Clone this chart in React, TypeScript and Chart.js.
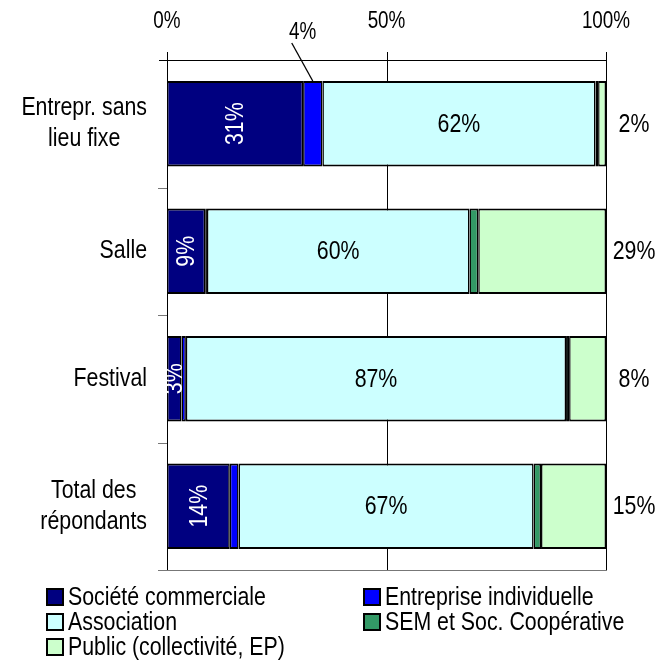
import React, { useEffect, useRef } from "react";
import { Chart, registerables } from "chart.js";

Chart.register(...registerables);

const categories: (string | string[])[] = [
  ["Entrepr. sans", "lieu fixe"],
  "Salle",
  "Festival",
  ["Total des", "répondants"],
];
const seriesNames = [
  "Société commerciale",
  "Entreprise individuelle",
  "Association",
  "SEM et Soc. Coopérative",
  "Public (collectivité, EP)",
];
const societeCommerciale = [31, 8.7, 3.3, 14.3];
const entrepriseIndividuelle = [4.4, 0.4, 1.0, 2.0];
const association = [62.2, 59.8, 86.6, 67.2];
const semCoop = [0.6, 2.0, 0.7, 1.7];
const publicColl = [1.8, 29.1, 8.4, 14.8];
const xTicks = [0, 50, 100];

const colors = ["#000080", "#0000FF", "#CCFFFF", "#339966", "#CCFFCC"];
const FONT = "'Liberation Sans', Arial, sans-serif";
const NARROW = 0.82;

const pct = (v: number) => Math.round(v) + "%";

function txt(
  ctx: CanvasRenderingContext2D,
  s: string,
  x: number,
  y: number,
  size: number,
  color: string,
  align: CanvasTextAlign = "center",
  rot = 0
) {
  ctx.save();
  ctx.font = size + "px " + FONT;
  ctx.translate(x, y);
  if (rot) ctx.rotate(rot);
  ctx.scale(NARROW, 1);
  ctx.textAlign = align;
  ctx.textBaseline = "middle";
  ctx.fillStyle = color;
  ctx.fillText(s, 0, 0);
  ctx.restore();
}

function textW(ctx: CanvasRenderingContext2D, s: string, size: number) {
  ctx.save();
  ctx.font = size + "px " + FONT;
  const w = ctx.measureText(s).width * NARROW;
  ctx.restore();
  return w;
}

const customPlugin = {
  id: "custom",
  beforeDatasetsDraw(chart: any) {
    const ctx = chart.ctx;
    const { left, right, top, bottom } = chart.chartArea;
    const xs = chart.scales.x;
    ctx.save();
    ctx.strokeStyle = "#000";
    ctx.lineWidth = 1;
    xTicks.forEach((t) => {
      const x = Math.round(xs.getPixelForValue(t)) + 0.5;
      ctx.beginPath();
      ctx.moveTo(x, top - 8);
      ctx.lineTo(x, t === 0 ? top : bottom);
      ctx.stroke();
    });
    ctx.beginPath();
    ctx.moveTo(left - 8, top + 0.5);
    ctx.lineTo(right + 1, top + 0.5);
    ctx.stroke();
    const lx = Math.round(left) + 0.5;
    ctx.beginPath();
    ctx.moveTo(lx, top);
    ctx.lineTo(lx, bottom);
    ctx.stroke();
    const n = categories.length;
    ctx.strokeStyle = "#777";
    for (let i = 1; i <= n; i++) {
      const y = Math.round(top + (i * (bottom - top)) / n) + 0.5;
      ctx.beginPath();
      ctx.moveTo(left - 9, y);
      ctx.lineTo(i === n ? right + 1 : left, y);
      ctx.stroke();
    }
    ctx.restore();
    xTicks.forEach((t) => {
      txt(ctx, t + "%", xs.getPixelForValue(t), top - 38, 23, "#000");
    });
    const ys = chart.scales.y;
    categories.forEach((c, i) => {
      const lines = Array.isArray(c) ? c : [c];
      const w = Math.max(...lines.map((l) => textW(ctx, l, 26)));
      const cx = left - 20 - w / 2;
      const cy = ys.getPixelForValue(i);
      const lh = 31;
      lines.forEach((l, j) => {
        txt(ctx, l, cx, cy + (j - (lines.length - 1) / 2) * lh, 26, "#000");
      });
    });
  },
  afterDatasetsDraw(chart: any) {
    const ctx = chart.ctx;
    const { left, right, bottom } = chart.chartArea;
    chart.getDatasetMeta(0).data.forEach((el: any, i: number) => {
      const cx = (el.x + el.base) / 2;
      txt(ctx, pct(societeCommerciale[i]), cx + 1, el.y, 26, "#fff", "center", -Math.PI / 2);
    });
    chart.getDatasetMeta(1).data.forEach((el: any, i: number) => {
      const v = entrepriseIndividuelle[i];
      if (v < 3) return;
      const cx = (el.x + el.base) / 2;
      const ty = el.y - el.height / 2;
      ctx.save();
      ctx.strokeStyle = "#000";
      ctx.lineWidth = 1.3;
      ctx.beginPath();
      ctx.moveTo(cx, ty);
      ctx.lineTo(cx - 21, ty - 38);
      ctx.stroke();
      ctx.restore();
      txt(ctx, pct(v), cx - 10, ty - 48, 23, "#000");
    });
    chart.getDatasetMeta(2).data.forEach((el: any, i: number) => {
      txt(ctx, pct(association[i]), (el.x + el.base) / 2, el.y + 1, 26, "#000");
    });
    chart.getDatasetMeta(4).data.forEach((el: any, i: number) => {
      txt(ctx, pct(publicColl[i]), right + 28, el.y + 1, 26, "#000");
    });
    const rows = [[0, 1], [2, 3], [4]];
    const colX = [left - 120, left + 197];
    rows.forEach((r, ri) => {
      const y = bottom + 27 + ri * 25;
      r.forEach((di, ci) => {
        const bx = colX[ci];
        ctx.save();
        ctx.fillStyle = colors[di];
        ctx.fillRect(bx, y - 8, 16, 16);
        ctx.strokeStyle = "#000";
        ctx.lineWidth = 2;
        ctx.strokeRect(bx, y - 8, 16, 16);
        ctx.restore();
        txt(ctx, seriesNames[di], bx + 21, y + 1, 26, "#000", "left");
      });
    });
  },
};

export default function App() {
  const ref = useRef<HTMLCanvasElement | null>(null);
  useEffect(() => {
    if (!ref.current) return;
    const values = [societeCommerciale, entrepriseIndividuelle, association, semCoop, publicColl];
    const chart = new Chart(ref.current, {
      type: "bar",
      data: {
        labels: categories as any,
        datasets: values.map((d, i) => ({
          label: seriesNames[i],
          data: d,
          backgroundColor: colors[i],
          borderColor: "#000",
          borderWidth: { top: 2, bottom: 2, left: 1.5, right: 1.5 } as any,
          borderSkipped: false as any,
          barPercentage: 0.67,
          categoryPercentage: 1,
        })),
      },
      options: {
        indexAxis: "y",
        responsive: false,
        animation: false,
        layout: { padding: { left: 167, right: 54, top: 60, bottom: 95 } },
        plugins: { legend: { display: false }, tooltip: { enabled: false } },
        scales: {
          x: { stacked: true, min: 0, max: 100, display: false },
          y: { stacked: true, display: false },
        },
      },
      plugins: [customPlugin],
    });
    return () => chart.destroy();
  }, []);
  return (
    <div style={{ position: "fixed", left: 0, top: 0, width: 660, height: 665, background: "#fff" }}>
      <canvas ref={ref} width={660} height={665} style={{ width: 660, height: 665 }} />
    </div>
  );
}
